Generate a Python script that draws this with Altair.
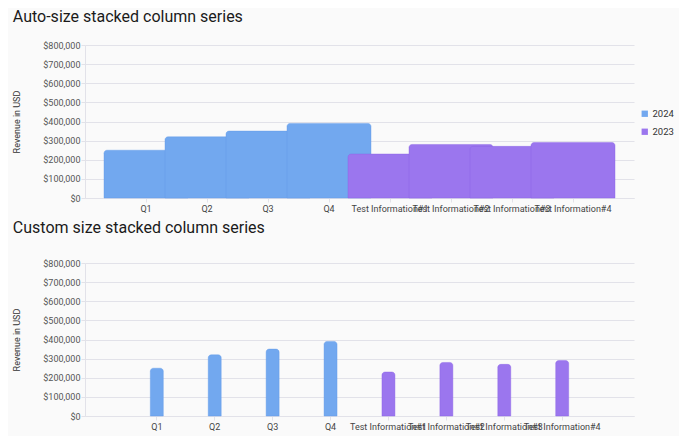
import altair as alt
import pandas as pd

categories = ["Q1", "Q2", "Q3", "Q4",
              "Test Information#1", "Test Information#2",
              "Test Information#3", "Test Information#4"]
series = ["2024", "2024", "2024", "2024", "2023", "2023", "2023", "2023"]
revenue = [250000, 320000, 350000, 390000, 230000, 280000, 270000, 290000]
y_ticks = [0, 100000, 200000, 300000, 400000, 500000, 600000, 700000, 800000]

df = pd.DataFrame({"category": categories, "series": series, "revenue": revenue})

BLUE = "#72A8EF"
PURPLE = "#9B76EE"
GRID = "#E2E2E9"
FONT = "Roboto"


def panel(title, bar_size, pad_outer, title_offset):
    color = alt.Color(
        "series:N",
        scale=alt.Scale(domain=["2024", "2023"], range=[BLUE, PURPLE]),
        legend=alt.Legend(
            title=None, orient="none", legendX=555, legendY=64,
            symbolType="square", symbolSize=40, symbolStrokeWidth=0,
            labelFontSize=9.5, labelFont=FONT, labelColor="#333333",
            rowPadding=7, labelOffset=3, padding=0,
        ),
    )
    return (
        alt.Chart(df)
        .mark_bar(size=bar_size, cornerRadiusTopLeft=3, cornerRadiusTopRight=3,
                  strokeWidth=1, strokeOpacity=0.4)
        .encode(
            x=alt.X(
                "category:N", sort=categories,
                scale=alt.Scale(paddingInner=0, paddingOuter=pad_outer),
                axis=alt.Axis(
                    title=None, labelAngle=0, labelFontSize=9, labelFont=FONT,
                    labelColor="#444444", labelOverlap=False, labelBound=False,
                    labelFlush=False, tickSize=4, tickColor=GRID, domainColor=GRID,
                    labelPadding=2, grid=False,
                ),
            ),
            y=alt.Y(
                "revenue:Q", stack=None,
                scale=alt.Scale(domain=[0, 800000], nice=False),
                axis=alt.Axis(
                    title="Revenue in USD", values=y_ticks, format="$,.0f",
                    labelFontSize=9, labelFont=FONT, labelColor="#555555",
                    titleFontSize=9, titleFont=FONT, titleFontWeight="normal",
                    titleColor="#333333", titlePadding=21, labelPadding=1,
                    tickSize=4, tickColor=GRID, gridColor=GRID, domainColor=GRID,
                ),
            ),
            color=color,
            stroke=alt.Color("series:N", scale=alt.Scale(domain=["2024", "2023"], range=["#5E98E8", "#8A62E6"]), legend=None),
        )
        .properties(
            width=549, height=153,
            title=alt.TitleParams(title, anchor="start", fontSize=16, font=FONT,
                                  fontWeight="normal", color="#1A1A1A", offset=title_offset),
        )
    )


top = panel("Auto-size stacked column series", 84, 0.5, 16)
bottom = panel("Custom size stacked column series", 13, 0.74, 23)

chart = (
    alt.vconcat(top, bottom, spacing=7)
    .properties(background="#FAFAFA", padding={"left": 4, "top": 1, "right": 5, "bottom": 5})
    .configure_view(stroke=None)
)

chart.save("out.html", embed_options={"renderer": "svg", "actions": False})
